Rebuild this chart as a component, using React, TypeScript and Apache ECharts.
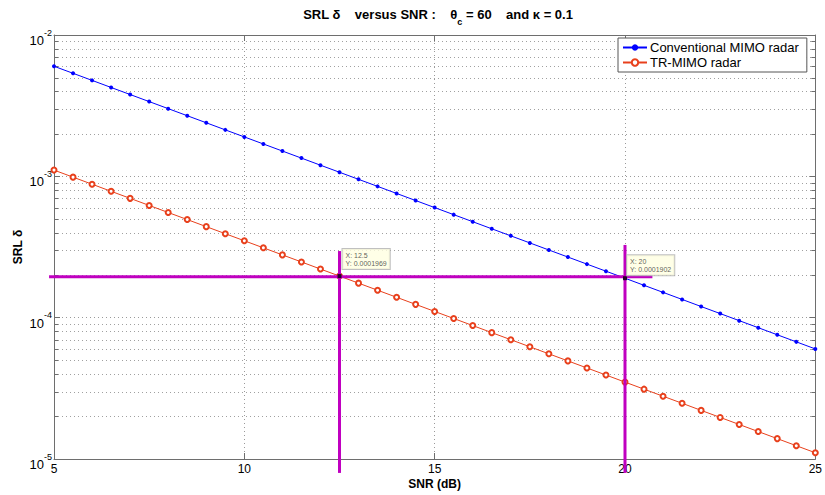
import React, { useEffect, useRef } from 'react';
import * as echarts from 'echarts';

const FONT = 'Arial, "Liberation Sans", sans-serif';

// SNR (dB) sample points
const snrDb = [
  5, 5.5, 6, 6.5, 7, 7.5, 8, 8.5, 9, 9.5, 10, 10.5, 11, 11.5, 12, 12.5, 13, 13.5, 14, 14.5,
  15, 15.5, 16, 16.5, 17, 17.5, 18, 18.5, 19, 19.5, 20, 20.5, 21, 21.5, 22, 22.5, 23, 23.5, 24, 24.5, 25,
];

// Conventional MIMO radar SRL
const conventional = [
  6.01e-3, 5.357e-3, 4.774e-3, 4.254e-3, 3.792e-3, 3.38e-3, 3.012e-3, 2.685e-3, 2.393e-3, 2.132e-3,
  1.9e-3, 1.694e-3, 1.51e-3, 1.346e-3, 1.199e-3, 1.069e-3, 9.526e-4, 8.492e-4, 7.567e-4, 6.743e-4,
  6.01e-4, 5.357e-4, 4.774e-4, 4.254e-4, 3.792e-4, 3.38e-4, 3.012e-4, 2.685e-4, 2.393e-4, 2.132e-4,
  1.902e-4, 1.694e-4, 1.51e-4, 1.346e-4, 1.199e-4, 1.069e-4, 9.526e-5, 8.492e-5, 7.567e-5, 6.743e-5,
  6.01e-5,
];

// TR-MIMO radar SRL
const trMimo = [
  1.107e-3, 9.867e-4, 8.793e-4, 7.836e-4, 6.985e-4, 6.225e-4, 5.548e-4, 4.945e-4, 4.407e-4, 3.928e-4,
  3.5e-4, 3.12e-4, 2.781e-4, 2.479e-4, 2.208e-4, 1.969e-4, 1.755e-4, 1.564e-4, 1.394e-4, 1.242e-4,
  1.107e-4, 9.867e-5, 8.793e-5, 7.836e-5, 6.985e-5, 6.225e-5, 5.548e-5, 4.945e-5, 4.407e-5, 3.928e-5,
  3.5e-5, 3.12e-5, 2.781e-5, 2.479e-5, 2.208e-5, 1.969e-5, 1.755e-5, 1.564e-5, 1.394e-5, 1.242e-5,
  1.107e-5,
];

// minor log grid values
const yMinorTicks = [
  2e-5, 3e-5, 4e-5, 5e-5, 6e-5, 7e-5, 8e-5, 9e-5,
  2e-4, 3e-4, 4e-4, 5e-4, 6e-4, 7e-4, 8e-4, 9e-4,
  2e-3, 3e-3, 4e-3, 5e-3, 6e-3, 7e-3, 8e-3, 9e-3,
];

// data tips: [x, y]
const datatipX = [12.5, 20];
const datatipY = [1.969e-4, 1.902e-4];
const datatipText = ['X: 12.5\nY: 0.0001969', 'X: 20\nY: 0.0001902'];

// magenta guide lines: [x1, y1, x2, y2]
const guideLines = [
  [4.87, 1.95e-4, 20.72, 1.95e-4],
  [12.5, 2.96e-4, 12.5, 7.97e-6],
  [20, 3.27e-4, 20, 7.97e-6],
];

const seriesNames = ['Conventional MIMO radar', 'TR-MIMO radar'];

export default function App() {
  const ref = useRef<HTMLDivElement>(null);

  useEffect(() => {
    if (!ref.current) return;
    const chart = echarts.init(ref.current, undefined, { renderer: 'svg' });

    const axisColor = '#6e6e6e';
    const gridDash = { color: '#9a9a9a', width: 1, type: [1, 3] as any };

    const option: any = {
      animation: false,
      backgroundColor: '#ffffff',
      title: {
        text: '{t|SRL δ    versus SNR :    θ}{sub|c}{t| = 60    and κ = 0.1}',
        left: 433,
        textAlign: 'center',
        top: 3,
        textStyle: {
          fontFamily: FONT,
          rich: {
            t: { fontFamily: FONT, fontSize: 13, fontWeight: 'bold', color: '#000', lineHeight: 15, verticalAlign: 'top' },
            sub: { fontFamily: FONT, fontSize: 9, fontWeight: 'bold', color: '#000', lineHeight: 10, padding: [9, 0, 0, 0], verticalAlign: 'top' },
          },
        },
      },
      legend: {
        data: seriesNames,
        orient: 'vertical',
        left: 618,
        top: 38,
        width: 194,
        padding: [3, 8, 3, 4],
        itemGap: 2,
        itemWidth: 24,
        itemHeight: 8,
        borderColor: '#555',
        borderWidth: 1,
        backgroundColor: '#fff',
        textStyle: { fontFamily: FONT, fontSize: 13, color: '#000', padding: [0, 0, 0, -2] },
      },
      grid: { left: 54, right: 9, top: 35, bottom: 36, containLabel: false },
      xAxis: [
        {
          type: 'value',
          min: 5,
          max: 25,
          interval: 5,
          name: 'SNR (dB)',
          nameLocation: 'middle',
          nameGap: 19,
          nameMoveOverlap: false,
          nameTextStyle: { fontFamily: FONT, fontSize: 12, fontWeight: 'bold', color: '#000' },
          axisLine: { show: true, lineStyle: { color: axisColor } },
          axisTick: { show: true, inside: true, length: 6, lineStyle: { color: axisColor } },
          axisLabel: { fontFamily: FONT, fontSize: 12, color: '#000', margin: 4 },
          splitLine: { show: true, lineStyle: gridDash },
        },
        {
          type: 'value',
          position: 'top',
          min: 5,
          max: 25,
          interval: 5,
          axisLine: { show: true, lineStyle: { color: axisColor } },
          axisTick: { show: true, inside: true, length: 6, lineStyle: { color: axisColor } },
          axisLabel: { show: false },
          splitLine: { show: false },
        },
      ],
      yAxis: [
        {
          type: 'log',
          logBase: 10,
          min: 1e-5,
          max: 1e-2,
          name: 'SRL δ',
          nameLocation: 'middle',
          nameGap: 30,
          nameMoveOverlap: false,
          nameTextStyle: { fontFamily: FONT, fontSize: 12, fontWeight: 'bold', color: '#000' },
          axisLine: { show: true, lineStyle: { color: axisColor } },
          axisTick: { show: true, inside: true, length: 6, lineStyle: { color: axisColor } },
          axisLabel: {
            margin: 2,
            formatter: (v: number) => `{b|10}{s|${Math.round(Math.log10(v))}}`,
            rich: {
              b: { fontFamily: FONT, fontSize: 13, color: '#000', lineHeight: 14, padding: [6, 0, 6, 0], verticalAlign: 'top' },
              s: { fontFamily: FONT, fontSize: 9, color: '#000', lineHeight: 10, verticalAlign: 'top' },
            },
          },
          splitLine: { show: true, lineStyle: gridDash },
        },
        {
          type: 'log',
          logBase: 10,
          min: 1e-5,
          max: 1e-2,
          position: 'right',
          axisLine: { show: true, lineStyle: { color: axisColor } },
          axisTick: { show: true, inside: true, length: 6, lineStyle: { color: axisColor } },
          axisLabel: { show: false },
          splitLine: { show: false },
        },
      ],
      series: [
        {
          type: 'custom',
          name: 'minorGrid',
          silent: true,
          z: 1,
          data: yMinorTicks.map((v) => [5, v]),
          encode: { x: 0, y: 1 },
          renderItem: (params: any, api: any) => {
            const cs = params.coordSys;
            const y = Math.round(api.coord([api.value(0), api.value(1)])[1]) + 0.5;
            return {
              type: 'group',
              children: [
                { type: 'line', shape: { x1: cs.x, y1: y, x2: cs.x + cs.width, y2: y }, style: { stroke: '#a0a0a0', lineWidth: 1, lineDash: [1, 3] } },
                { type: 'line', shape: { x1: cs.x, y1: y, x2: cs.x + 4, y2: y }, style: { stroke: axisColor, lineWidth: 1 } },
                { type: 'line', shape: { x1: cs.x + cs.width - 4, y1: y, x2: cs.x + cs.width, y2: y }, style: { stroke: axisColor, lineWidth: 1 } },
              ],
            };
          },
        },
        {
          type: 'line',
          name: seriesNames[0],
          data: snrDb.map((x, i) => [x, conventional[i]]),
          color: '#0000ff',
          symbol: 'circle',
          symbolSize: 4,
          showAllSymbol: true,
          lineStyle: { width: 1, color: '#0000ff' },
          itemStyle: { color: '#0000ff' },
          z: 2,
        },
        {
          type: 'line',
          name: seriesNames[1],
          data: snrDb.map((x, i) => [x, trMimo[i]]),
          color: '#e8401c',
          symbol: 'emptyCircle',
          symbolSize: 5,
          showAllSymbol: true,
          lineStyle: { width: 1, color: '#e8401c' },
          itemStyle: { color: '#e8401c', borderColor: '#e8401c', borderWidth: 1 },
          z: 2,
        },
        {
          type: 'custom',
          name: 'guides',
          silent: true,
          z: 3,
          clip: false,
          data: guideLines,
          encode: { x: [0, 2], y: [1, 3] },
          renderItem: (params: any, api: any) => {
            const p1 = api.coord([api.value(0), api.value(1)]);
            const p2 = api.coord([api.value(2), api.value(3)]);
            return {
              type: 'line',
              shape: { x1: p1[0], y1: p1[1], x2: p2[0], y2: p2[1] },
              style: { stroke: '#c000c0', lineWidth: 3 },
            };
          },
        },
        {
          type: 'scatter',
          name: 'datatips',
          silent: true,
          z: 4,
          symbol: 'rect',
          symbolSize: 4,
          itemStyle: { color: '#000' },
          data: datatipX.map((x, i) => ({
            value: [x, datatipY[i]],
            label: {
              show: true,
              formatter: datatipText[i],
              position: i === 0 ? [5, -25] : [4, -21],
              fontFamily: FONT,
              fontSize: 7,
              lineHeight: 8,
              color: '#333',
              backgroundColor: '#ffffe1',
              borderColor: '#b0b0b0',
              borderWidth: 1,
              padding: [2, 3, 2, 3],
            },
          })),
        },
      ],
    };

    chart.setOption(option);
    return () => chart.dispose();
  }, []);

  return (
    <div
      ref={ref}
      style={{ position: 'fixed', left: 0, top: 0, width: 825, height: 495, background: '#fff' }}
    />
  );
}
